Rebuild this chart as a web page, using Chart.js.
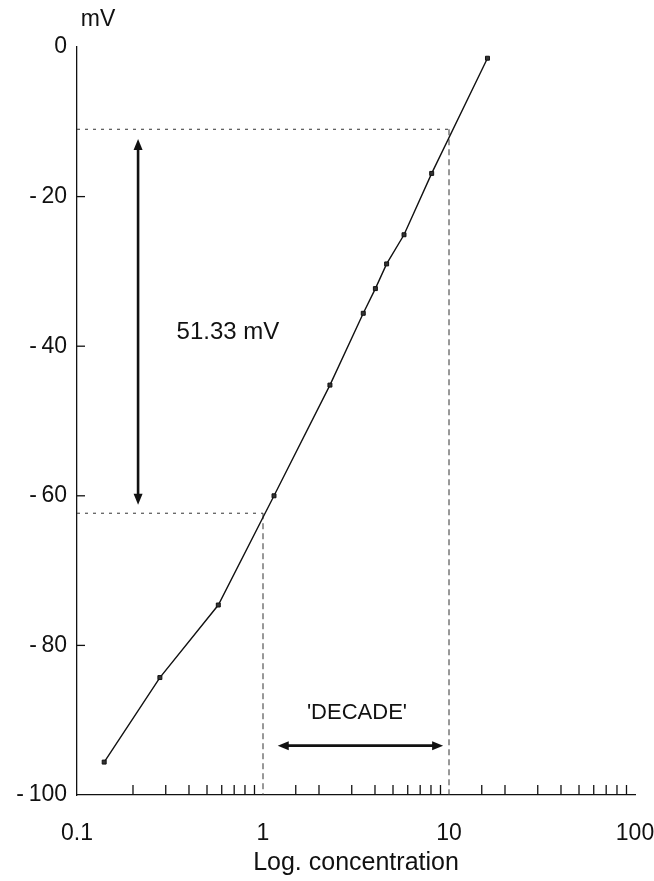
<!DOCTYPE html>
<html>
<head>
<meta charset="utf-8">
<script src="https://cdn.jsdelivr.net/npm/chart.js@4/dist/chart.umd.min.js"></script>
<style>
    html, body { margin: 0; padding: 0; background: #fff; }
    #wrap { width: 654px; height: 881px; }
</style>
</head>
<body>
<div id="wrap"><canvas id="electrode-chart" width="654" height="881"></canvas></div>
<script>
// measured calibration points
const concentration = [0.140, 0.279, 0.575, 1.146, 2.29, 3.46, 4.02, 4.62, 5.73, 8.07, 16.1];
const potential = [-95.6, -84.3, -74.6, -60.0, -45.2, -35.6, -32.3, -29.0, -25.1, -16.9, -1.5];

// the decade construction: potential read at 1 and 10
const decadeConc = [1, 10];
const decadeLevels = [-62.33, -11.0];
const yTicks = [0, -20, -40, -60, -80, -100];
const xTickLabels = [0.1, 1, 10, 100];

const FONT = "'Liberation Sans', Arial, sans-serif";
const INK = '#111';

// annotations (data units)
const spanArrow = { conc: 0.213, from: -12.3, to: -61.2, label: '51.33 mV', labelConc: 0.648, labelMv: -38.2 };
const decadeArrow = { mv: -93.4, from: 1.2, to: 9.3, label: "'DECADE'", labelConc: 3.2, labelMv: -89.0 };

const isDecade = v => Math.abs(Math.log10(v) - Math.round(Math.log10(v))) < 1e-9;

function arrowHead(ctx, x, y, angle) {
    ctx.save();
    ctx.translate(x, y);
    ctx.rotate(angle);
    ctx.beginPath();
    ctx.moveTo(0, 0);
    ctx.lineTo(-11, -4.5);
    ctx.lineTo(-11, 4.5);
    ctx.closePath();
    ctx.fill();
    ctx.restore();
}

const extras = {
    id: 'extras',
    afterDraw(chart) {
        const { ctx, chartArea } = chart;
        const xs = chart.scales.x, ys = chart.scales.y;
        ctx.save();
        ctx.strokeStyle = INK;
        ctx.fillStyle = INK;

        // inward minor ticks
        ctx.lineWidth = 1.3;
        xs.ticks.forEach(t => {
            if (isDecade(t.value)) return;
            const px = xs.getPixelForValue(t.value);
            ctx.beginPath();
            ctx.moveTo(px, chartArea.bottom);
            ctx.lineTo(px, chartArea.bottom - 10);
            ctx.stroke();
        });
        ys.ticks.forEach(t => {
            if (t.value === 0 || t.value === -100) return;
            const py = ys.getPixelForValue(t.value);
            ctx.beginPath();
            ctx.moveTo(chartArea.left, py);
            ctx.lineTo(chartArea.left + 8, py);
            ctx.stroke();
        });

        // vertical double arrow
        ctx.lineWidth = 2.6;
        let ax = xs.getPixelForValue(spanArrow.conc);
        let a1 = ys.getPixelForValue(spanArrow.from), a2 = ys.getPixelForValue(spanArrow.to);
        ctx.beginPath();
        ctx.moveTo(ax, a1 + 8);
        ctx.lineTo(ax, a2 - 8);
        ctx.stroke();
        arrowHead(ctx, ax, a1, -Math.PI / 2);
        arrowHead(ctx, ax, a2, Math.PI / 2);

        // horizontal double arrow
        let hy = ys.getPixelForValue(decadeArrow.mv);
        let h1 = xs.getPixelForValue(decadeArrow.from), h2 = xs.getPixelForValue(decadeArrow.to);
        ctx.beginPath();
        ctx.moveTo(h1 + 8, hy);
        ctx.lineTo(h2 - 8, hy);
        ctx.stroke();
        arrowHead(ctx, h1, hy, Math.PI);
        arrowHead(ctx, h2, hy, 0);

        // labels
        ctx.textAlign = 'center';
        ctx.textBaseline = 'middle';
        ctx.font = `24px ${FONT}`;
        ctx.fillText(spanArrow.label, xs.getPixelForValue(spanArrow.labelConc), ys.getPixelForValue(spanArrow.labelMv));
        ctx.font = `22px ${FONT}`;
        ctx.fillText(decadeArrow.label, xs.getPixelForValue(decadeArrow.labelConc), ys.getPixelForValue(decadeArrow.labelMv));
        ctx.font = `23px ${FONT}`;
        ctx.fillText('mV', chartArea.left + 21, chartArea.top - 27);
        ctx.restore();
    }
};

new Chart(document.getElementById('electrode-chart').getContext('2d'), {
    type: 'line',
    data: {
        datasets: [{
            label: 'Calibration',
            data: concentration.map((c, i) => ({ x: c, y: potential[i] })),
            borderColor: INK,
            borderWidth: 1.4,
            pointStyle: 'rect',
            pointRadius: 2.8,
            pointBackgroundColor: '#333',
            pointBorderColor: INK,
            pointBorderWidth: 1,
            tension: 0,
        }, {
            label: 'Level at 10',
            data: [{ x: 0.1, y: decadeLevels[1] }, { x: decadeConc[1], y: decadeLevels[1] }],
            borderColor: '#333', borderWidth: 1, borderDash: [3, 5], pointRadius: 0,
        }, {
            label: 'Level at 1',
            data: [{ x: 0.1, y: decadeLevels[0] }, { x: decadeConc[0], y: decadeLevels[0] }],
            borderColor: '#333', borderWidth: 1, borderDash: [3, 5], pointRadius: 0,
        }, {
            label: 'Drop at 10',
            data: [{ x: decadeConc[1], y: decadeLevels[1] }, { x: decadeConc[1], y: -100 }],
            borderColor: '#333', borderWidth: 1, borderDash: [6, 4], pointRadius: 0,
        }, {
            label: 'Drop at 1',
            data: [{ x: decadeConc[0], y: decadeLevels[0] }, { x: decadeConc[0], y: -100 }],
            borderColor: '#333', borderWidth: 1, borderDash: [6, 4], pointRadius: 0,
        }]
    },
    options: {
        responsive: false,
        devicePixelRatio: 1,
        animation: false,
        layout: { padding: { top: 47, right: 19, left: 0, bottom: 0 } },
        plugins: { legend: { display: false }, tooltip: { enabled: false } },
        scales: {
            x: {
                type: 'logarithmic',
                min: 0.1,
                max: 100,
                grid: { display: false },
                border: { display: true, color: INK, width: 1.3 },
                ticks: {
                    autoSkip: false,
                    maxRotation: 0,
                    padding: 17,
                    color: INK,
                    font: { family: FONT, size: 23 },
                    callback: v => xTickLabels.some(t => Math.abs(t - v) < 1e-9) ? String(v) : ''
                },
                title: {
                    display: true,
                    text: 'Log. concentration',
                    color: INK,
                    font: { family: FONT, size: 25 },
                    padding: { top: 0, bottom: 3 }
                },
                afterFit: s => { s.height = 86; s.paddingLeft = 0; s.paddingRight = 0; }
            },
            y: {
                min: -100,
                max: 0,
                afterBuildTicks: s => { s.ticks = yTicks.map(v => ({ value: v })); },
                grid: { display: false },
                border: { display: true, color: INK, width: 1.3 },
                ticks: {
                    padding: 2,
                    color: INK,
                    font: { family: FONT, size: 23 },
                    callback: v => v === 0 ? '0' : '-\u2009' + Math.abs(v)
                },
                afterFit: s => { s.width = 77; s.paddingTop = 0; s.paddingBottom = 0; }
            }
        }
    },
    plugins: [extras]
});
</script>
</body>
</html>
